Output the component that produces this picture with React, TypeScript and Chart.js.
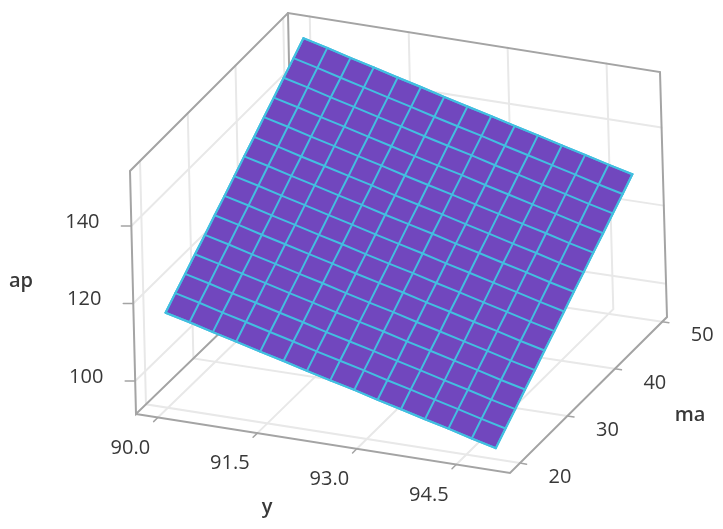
import { useEffect, useRef } from "react";
import { Chart, registerables } from "chart.js";

Chart.register(...registerables);

const W = 723;
const H = 529;

// axis ranges of the 3D box
const yRange = [89.67, 95.31];
const maRange = [17.9, 51.0];
const apRange = [91.5, 154.2];

const yTicks = [90.0, 91.5, 93.0, 94.5];
const maTicks = [20, 30, 40, 50];
const apTicks = [100, 120, 140];

// surface grid
const ySamples = [90.0, 90.36, 90.71, 91.06, 91.42, 91.77, 92.12, 92.47, 92.83, 93.18, 93.53, 93.89, 94.24, 94.59, 94.95];
const maSamples = [20, 22.11, 24.23, 26.34, 28.46, 30.57, 32.69, 34.8, 36.91, 39.03, 41.14, 43.26, 45.37, 47.49, 49.6];
const apValues = [
  [116.0, 114.5, 112.9, 111.4, 109.8, 108.3, 106.7, 105.2, 103.7, 102.1, 100.6, 99.0, 97.5, 95.9, 94.4],
  [118.5, 117.0, 115.4, 113.9, 112.3, 110.8, 109.2, 107.7, 106.2, 104.6, 103.1, 101.5, 100.0, 98.4, 96.9],
  [120.9, 119.4, 117.8, 116.3, 114.7, 113.2, 111.6, 110.1, 108.6, 107.0, 105.5, 103.9, 102.4, 100.8, 99.3],
  [123.4, 121.9, 120.3, 118.8, 117.2, 115.7, 114.1, 112.6, 111.1, 109.5, 108.0, 106.4, 104.9, 103.3, 101.8],
  [125.8, 124.3, 122.7, 121.2, 119.6, 118.1, 116.5, 115.0, 113.5, 111.9, 110.4, 108.8, 107.3, 105.7, 104.2],
  [128.3, 126.8, 125.2, 123.7, 122.1, 120.6, 119.0, 117.5, 116.0, 114.4, 112.9, 111.3, 109.8, 108.2, 106.7],
  [130.7, 129.2, 127.6, 126.1, 124.5, 123.0, 121.4, 119.9, 118.4, 116.8, 115.3, 113.7, 112.2, 110.6, 109.1],
  [133.2, 131.7, 130.1, 128.6, 127.0, 125.5, 123.9, 122.4, 120.9, 119.3, 117.8, 116.2, 114.7, 113.1, 111.6],
  [135.7, 134.2, 132.6, 131.1, 129.5, 128.0, 126.4, 124.9, 123.4, 121.8, 120.3, 118.7, 117.2, 115.6, 114.1],
  [138.1, 136.6, 135.0, 133.5, 131.9, 130.4, 128.8, 127.3, 125.8, 124.2, 122.7, 121.1, 119.6, 118.0, 116.5],
  [140.6, 139.1, 137.5, 136.0, 134.4, 132.9, 131.3, 129.8, 128.3, 126.7, 125.2, 123.6, 122.1, 120.5, 119.0],
  [143.0, 141.5, 139.9, 138.4, 136.8, 135.3, 133.7, 132.2, 130.7, 129.1, 127.6, 126.0, 124.5, 122.9, 121.4],
  [145.5, 144.0, 142.4, 140.9, 139.3, 137.8, 136.2, 134.7, 133.2, 131.6, 130.1, 128.5, 127.0, 125.4, 123.9],
  [147.9, 146.4, 144.8, 143.3, 141.7, 140.2, 138.6, 137.1, 135.6, 134.0, 132.5, 130.9, 129.4, 127.8, 126.3],
  [150.4, 148.9, 147.3, 145.8, 144.2, 142.7, 141.1, 139.6, 138.1, 136.5, 135.0, 133.4, 131.9, 130.3, 128.8],
];

// screen position of the box corners, keyed [y][ma][ap] low/high
const corners = [
  [[[136, 414], [130, 171]], [[293, 262], [288, 13]]],
  [[[510, 473], [503, 230]], [[667, 317], [660, 72]]],
];

type Pt = { x: number; y: number };

const project = (y: number, ma: number, ap: number): Pt => {
  const fy = (y - yRange[0]) / (yRange[1] - yRange[0]);
  const fm = (ma - maRange[0]) / (maRange[1] - maRange[0]);
  const fa = (ap - apRange[0]) / (apRange[1] - apRange[0]);
  const axis = (i: number) => {
    const lerp = (a: number, b: number, t: number) => a + (b - a) * t;
    const c = corners;
    const low = lerp(lerp(c[0][0][0][i], c[0][0][1][i], fa), lerp(c[0][1][0][i], c[0][1][1][i], fa), fm);
    const high = lerp(lerp(c[1][0][0][i], c[1][0][1][i], fa), lerp(c[1][1][0][i], c[1][1][1][i], fa), fm);
    return lerp(low, high, fy);
  };
  return { x: axis(0), y: axis(1) };
};

const line = (points: Pt[], color: string, width: number, order: number) => ({
  data: points,
  showLine: true,
  pointRadius: 0,
  borderColor: color,
  borderWidth: width,
  borderCapStyle: "round" as const,
  tension: 0,
  fill: false,
  order,
});

const GRID = "#e8e8e8";
const BOX = "#a4a4a4";
const MESH = "#42bfe0";
const SURFACE = "#7147be";

const [yLo, yHi] = yRange;
const [maLo, maHi] = maRange;
const [apLo, apHi] = apRange;

const buildDatasets = () => {
  const sets: any[] = [];

  // wall and floor grid
  yTicks.forEach((y) => {
    sets.push(line([project(y, maLo, apLo), project(y, maHi, apLo), project(y, maHi, apHi)], GRID, 2, 30));
  });
  maTicks.forEach((ma) => {
    sets.push(line([project(yHi, ma, apLo), project(yLo, ma, apLo), project(yLo, ma, apHi)], GRID, 2, 30));
  });
  apTicks.forEach((ap) => {
    sets.push(line([project(yLo, maLo, ap), project(yLo, maHi, ap), project(yHi, maHi, ap)], GRID, 2, 30));
  });

  // box outline
  sets.push(line([project(yLo, maHi, apLo), project(yLo, maLo, apLo), project(yLo, maLo, apHi), project(yLo, maHi, apHi), project(yHi, maHi, apHi), project(yHi, maHi, apLo), project(yHi, maLo, apLo), project(yLo, maLo, apLo)], BOX, 2, 20));
  sets.push(line([project(yLo, maHi, apHi), project(yLo, maHi, apLo)], BOX, 2, 20));

  // tick marks
  yTicks.forEach((y) => {
    sets.push(line([project(y, maLo, apLo), project(y, maLo - 0.9, apLo)], BOX, 1.5, 20));
  });
  maTicks.forEach((ma) => {
    sets.push(line([project(yHi, ma, apLo), project(yHi + 0.1, ma, apLo)], BOX, 1.5, 20));
  });
  apTicks.forEach((ap) => {
    sets.push(line([project(yLo, maLo, ap), project(yLo - 0.13, maLo - 0.29, ap)], BOX, 1.5, 20));
  });

  // surface: filled outline, then the mesh on top
  const last = ySamples.length - 1;
  const outline: Pt[] = [];
  ySamples.forEach((y, i) => outline.push(project(y, maSamples[0], apValues[0][i])));
  maSamples.forEach((ma, j) => outline.push(project(ySamples[last], ma, apValues[j][last])));
  [...ySamples].reverse().forEach((y, i) => outline.push(project(y, maSamples[last], apValues[last][last - i])));
  [...maSamples].reverse().forEach((ma, j) => outline.push(project(ySamples[0], ma, apValues[last - j][0])));
  sets.push({ ...line(outline, MESH, 2, 10), fill: "shape", backgroundColor: SURFACE });

  maSamples.forEach((ma, j) => {
    sets.push(line(ySamples.map((y, i) => project(y, ma, apValues[j][i])), MESH, 2, 5));
  });
  ySamples.forEach((y, i) => {
    sets.push(line(maSamples.map((ma, j) => project(y, ma, apValues[j][i])), MESH, 2, 5));
  });
  return sets;
};

// tick labels and axis names
const labelPlugin = {
  id: "axisLabels",
  afterDraw(chart: Chart) {
    const { ctx } = chart;
    ctx.save();
    ctx.textAlign = "center";
    ctx.textBaseline = "middle";
    ctx.fillStyle = "#383838";
    ctx.font = '20px "Open Sans"';
    yTicks.forEach((y) => {
      const p = project(y, maLo, apLo);
      ctx.fillText(y.toFixed(1), p.x - 27.5, p.y + 30.5);
    });
    maTicks.forEach((ma) => {
      const p = project(yHi, ma, apLo);
      ctx.fillText(String(ma), p.x + 40, p.y + 14);
    });
    apTicks.forEach((ap) => {
      const p = project(yLo, maLo, ap);
      ctx.fillText(String(ap), p.x - 49, p.y - 4);
    });
    ctx.font = '600 20px "Open Sans"';
    ctx.fillText("ap", 21, 281);
    ctx.fillText("y", 267, 507);
    ctx.fillText("ma", 690, 415);
    ctx.restore();
  },
};

export default function App() {
  const canvasRef = useRef<HTMLCanvasElement>(null);

  useEffect(() => {
    if (!canvasRef.current) return;
    const chart = new Chart(canvasRef.current, {
      type: "scatter",
      data: { datasets: buildDatasets() },
      options: {
        animation: false,
        responsive: false,
        layout: { padding: 0 },
        scales: {
          x: { type: "linear", display: false, min: 0, max: W },
          y: { type: "linear", display: false, min: 0, max: H, reverse: true },
        },
        plugins: { legend: { display: false }, tooltip: { enabled: false } },
      },
      plugins: [labelPlugin],
    });
    return () => chart.destroy();
  }, []);

  return (
    <div style={{ position: "absolute", left: 0, top: 0, width: W, height: H, background: "#fff" }}>
      <canvas ref={canvasRef} width={W} height={H} style={{ filter: "blur(0.7px)" }} />
    </div>
  );
}
